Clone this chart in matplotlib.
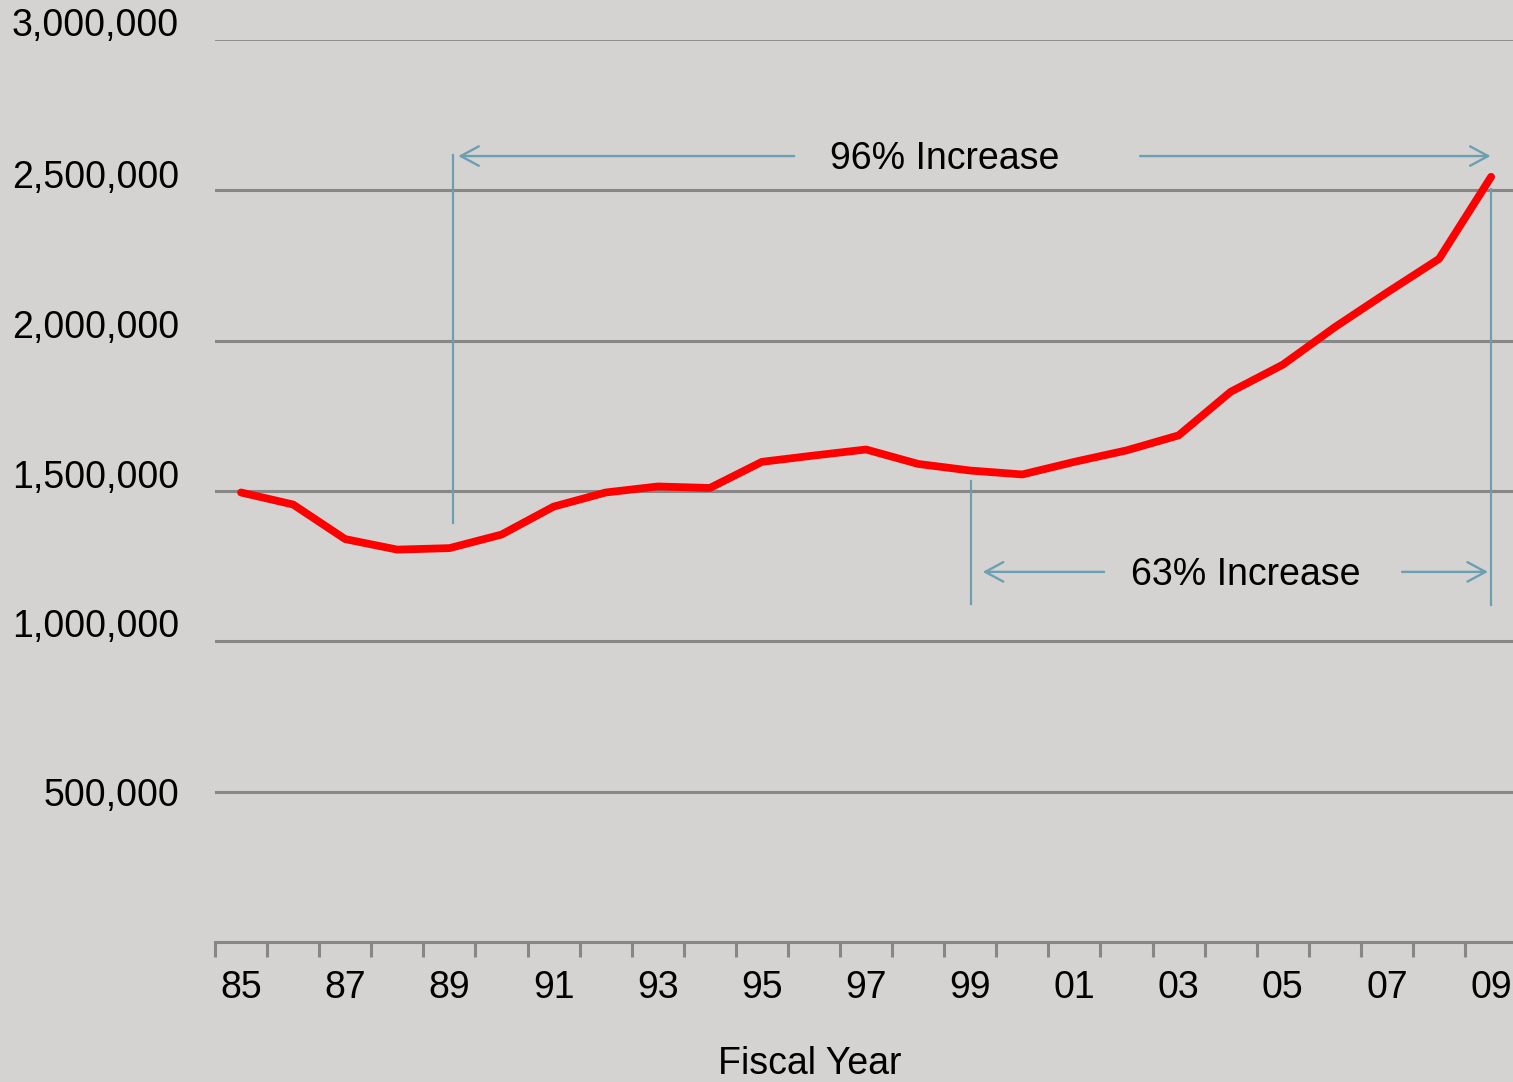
import numpy as np
import matplotlib
matplotlib.use("Agg")
import matplotlib.pyplot as plt
from matplotlib.transforms import ScaledTranslation

plt.rcParams['font.family'] = ['Liberation Sans', 'DejaVu Sans']

# fiscal years 1985 .. 2009
years = ["85", "86", "87", "88", "89", "90", "91", "92", "93", "94", "95", "96",
         "97", "98", "99", "00", "01", "02", "03", "04", "05", "06", "07", "08", "09"]
values = [1495000, 1455000, 1340000, 1305000, 1310000, 1355000, 1448000, 1495000,
          1515000, 1510000, 1597000, 1618000, 1638000, 1590000, 1568000, 1555000,
          1597000, 1635000, 1685000, 1830000, 1920000, 2045000, 2160000, 2272000, 2545000]
y_ticks = [500000, 1000000, 1500000, 2000000, 2500000, 3000000]
y_labels = ["500,000", "1,000,000", "1,500,000", "2,000,000", "2,500,000", "3,000,000"]
label_lift = [0, 13, 12, 12, 12, 13]   # points, labels sit a bit above their lines

bg = "#d4d3d2"
grid_c = "#878787"
note_c = "#6b9fb1"
fs = 27

fig = plt.figure(figsize=(15.13, 10.82), dpi=100, facecolor=bg)
ax = fig.add_axes([215 / 1513, 140 / 1082, 1298 / 1513, 902 / 1082])
ax.set_facecolor(bg)

x = np.arange(len(years))
ax.set_xlim(-0.5, 24.42)
ax.set_ylim(0, 3000000)

# gridlines
for v in y_ticks:
    ax.axhline(v, color=grid_c, lw=1.3 if v == 3000000 else 2.2, zorder=1)

ax.plot(x, values, color="#ff0000", lw=5.6, solid_joinstyle="round",
        solid_capstyle="round", zorder=3)

for s in ["top", "right", "left"]:
    ax.spines[s].set_visible(False)
ax.spines["bottom"].set_color(grid_c)
ax.spines["bottom"].set_linewidth(2.2)

ax.set_xticks(x[::2])
ax.set_xticklabels(years[::2])
ax.set_xticks(np.arange(-0.5, 24, 1.0), minor=True)
ax.tick_params(axis="x", which="major", length=0, pad=20, labelsize=fs)
ax.tick_params(axis="x", which="minor", length=11, width=2.2, color=grid_c)

ax.set_yticks(y_ticks)
ax.set_yticklabels(y_labels)
ax.tick_params(axis="y", length=0, pad=26, labelsize=fs)
for lab, dy in zip(ax.get_yticklabels(), label_lift):
    lab.set_transform(lab.get_transform() + ScaledTranslation(0, dy / 72, fig.dpi_scale_trans))

ax.set_xlabel("Fiscal Year", fontsize=fs)
ax.xaxis.set_label_coords((810 - 215) / 1298, -0.115)

# annotations
i89, i99, i09 = years.index("89"), years.index("99"), years.index("09")
ax.plot([i89 + 0.07, i89 + 0.07], [1393000, 2618000], color=note_c, lw=1.6, zorder=2)
ax.plot([i99 + 0.02, i99 + 0.02], [1124000, 1533000], color=note_c, lw=1.6, zorder=2)
ax.plot([i09, i09], [1121000, 2504000], color=note_c, lw=1.6, zorder=2)

arrow = dict(arrowstyle="->,head_length=0.52,head_width=0.28", mutation_scale=25,
             lw=1.7, color=note_c, shrinkA=0, shrinkB=0)
y96, y63 = 2614000, 1231000
ax.annotate("", xy=(i89 + 0.17, y96), xytext=(10.62, y96), arrowprops=arrow)
ax.annotate("", xy=(i09 - 0.01, y96), xytext=(17.26, y96), arrowprops=arrow)
ax.text(13.5, y96 - 10000, "96% Increase", fontsize=fs, ha="center", va="center")

ax.annotate("", xy=(i99 + 0.24, y63), xytext=(16.57, y63), arrowprops=arrow)
ax.annotate("", xy=(i09 - 0.06, y63), xytext=(22.29, y63), arrowprops=arrow)
ax.text(19.29, y63 - 10000, "63% Increase", fontsize=fs, ha="center", va="center")

fig.savefig("out.png", dpi=100, facecolor=bg)
